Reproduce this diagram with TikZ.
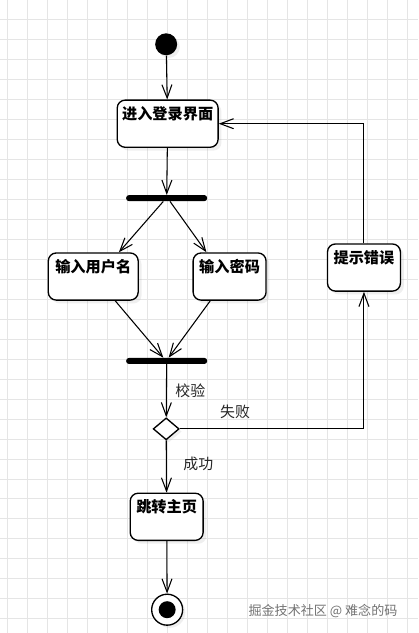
\documentclass[tikz,border=0pt]{standalone}
\usepackage{fontspec}
\setmainfont{Noto Sans CJK SC}
\usetikzlibrary{arrows.meta,shapes.geometric,shadows}

\tikzset{
  act/.style={draw, line width=1pt, rounded corners=6pt, fill=white,
    drop shadow={opacity=0.12, shadow xshift=2.5pt, shadow yshift=-2.5pt},
    inner xsep=0pt, inner ysep=0pt, text height=14.8pt, text depth=20.6pt,
    font=\fontsize{11.4}{13}\selectfont\bfseries},
  bar/.style={fill=black, rounded corners=2pt, minimum width=60.75pt,
    minimum height=4.5pt, inner sep=0pt},
  flow/.style={line width=0.8pt, -{Straight Barb[length=10pt,width=7.5pt,line width=0.8pt]}},
  lbl/.style={font=\fontsize{11.2}{13}\selectfont, text=black!85}
}

\begin{document}
\begin{tikzpicture}[x=0.75pt, y=-0.75pt]
        % background grid
        \fill[white] (0,0) rectangle (418,633);
        \foreach \x in {7,27,...,407} \draw[black!10, line width=0.5pt] (\x,0) -- (\x,633);
        \foreach \y in {19,39,...,619} \draw[black!10, line width=0.5pt] (0,\y) -- (418,\y);
        \useasboundingbox (0,0) rectangle (418,633);

        \node[circle, fill=black, minimum size=16.5pt, inner sep=0pt,
              drop shadow={opacity=0.12, shadow xshift=2pt, shadow yshift=-2pt}] (start) at (166,44) {};
        \node[act, minimum width=75.75pt] (login) at (167.5,123.5) {进入登录界面};
        \node[bar] (fork) at (166.5,198) {};
        \node[act, minimum width=67.5pt] (user) at (93,276.5) {输入用户名};
        \node[act, minimum width=54.75pt] (pwd) at (229.5,276.5) {输入密码};
        \node[bar] (join) at (166.5,361) {};
        \node[diamond, draw, line width=1pt, fill=white, minimum width=19.5pt, minimum height=16.5pt,
              inner sep=0pt, drop shadow={opacity=0.12, shadow xshift=2pt, shadow yshift=-2pt}] (check) at (166,429) {};
        \node[act, minimum width=54.75pt] (err) at (364,267.5) {提示错误};
        \node[act, minimum width=54.75pt] (home) at (166.5,517) {跳转主页};
        \node[circle, draw, line width=1pt, fill=white, minimum size=23.25pt, inner sep=0pt,
              drop shadow={opacity=0.12, shadow xshift=2pt, shadow yshift=-2pt}] (stop) at (167,610) {};
        \node[circle, fill=black, minimum size=12.75pt, inner sep=0pt] (stopdot) at (stop) {};

        \draw[flow] (start) -- (login);
        \draw[flow] (login) -- (fork);
        \draw[flow] ([xshift=-2.5pt]fork.south) -- ([xshift=-15pt]user.north east);
        \draw[flow] ([xshift=2.5pt]fork.south) -- ([xshift=10.5pt]pwd.north west);
        \draw[flow] ([xshift=16.5pt]user.south) -- ([xshift=-2.5pt]join.north);
        \draw[flow] ([xshift=-14.5pt]pwd.south) -- ([xshift=1.5pt]join.north);
        \draw[flow] (join) -- node[lbl, right=3pt] {校验} (check);
        \draw[flow] (check.east) -- node[lbl, pos=0.3, above=4pt] {失败} (check.east -| err.south) -- (err.south);
        \draw[flow] (err.north) |- (login.east);
        \draw[flow] (check) -- node[lbl, right=9pt, yshift=2pt] {成功} (home);
        \draw[flow] (home) -- (stop);

        \node[font=\fontsize{9.8}{12}\selectfont, text=black!55] (mark) at (323,611) {掘金技术社区 @ 难念的码};
      \end{tikzpicture}
\end{document}
